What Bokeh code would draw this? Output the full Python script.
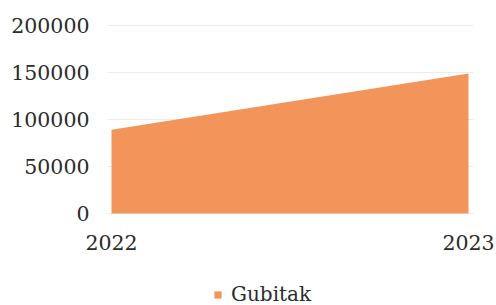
from bokeh.plotting import figure
from bokeh.models import FixedTicker, Legend, LegendItem, Range1d
from bokeh.embed import file_html
from bokeh.resources import INLINE

years = [2022, 2023]
values = [89000, 149000]
series_name = "Gubitak"
y_ticks = [0, 50000, 100000, 150000, 200000]

FONT = "DejaVu Serif"
TXT = "#2b2b2b"
ORANGE = "#F3955B"

# the frame fills the whole canvas; the axes are pinned inside it so that
# no label or legend text is clipped
X_START, X_END = 2021.6891, 2023.0784
PLOT_LEFT, PLOT_RIGHT = 2021.9888, 2023.014

p = figure(width=496, height=305, output_backend="svg", toolbar_location=None,
           min_border=0, min_border_left=0, min_border_right=0,
           min_border_top=0, min_border_bottom=0,
           x_range=Range1d(X_START, X_END), y_range=Range1d(-97872, 226596))
p.outline_line_color = None
p.background_fill_color = "white"

r = p.varea(x=years, y1=[0, 0], y2=values, fill_color=ORANGE, fill_alpha=1.0)

for ax in (p.xaxis[0], p.yaxis[0]):
    ax.axis_line_color = None
    ax.major_tick_line_color = None
    ax.minor_tick_line_color = None
    ax.major_tick_in = 0
    ax.major_tick_out = 0
    ax.major_label_text_font = FONT
    ax.major_label_text_font_size = "20.5px"
    ax.major_label_text_color = TXT

p.xaxis.ticker = FixedTicker(ticks=years)
p.xaxis.fixed_location = 0
p.xaxis.major_label_standoff = 21
p.yaxis.ticker = FixedTicker(ticks=y_ticks)
p.yaxis.fixed_location = PLOT_LEFT
p.yaxis.major_label_standoff = 18
p.yaxis.formatter.use_scientific = False

p.xgrid.grid_line_color = None
p.ygrid.grid_line_color = "#ececec"
p.ygrid.grid_line_width = 1
p.ygrid.ticker = FixedTicker(ticks=y_ticks)
try:
    p.ygrid.cross_bounds = (PLOT_LEFT, PLOT_RIGHT)
except Exception:
    pass

legend = Legend(items=[LegendItem(label=series_name, renderers=[r])],
                location=(213, -1), orientation="horizontal",
                label_text_font=FONT, label_text_font_size="20px", label_text_color=TXT,
                glyph_width=9, glyph_height=9, label_standoff=9,
                padding=0, margin=0, border_line_color=None, background_fill_alpha=0,
                label_height=20)
p.add_layout(legend, "center")

open("out.html", "w").write(file_html(p, INLINE))
